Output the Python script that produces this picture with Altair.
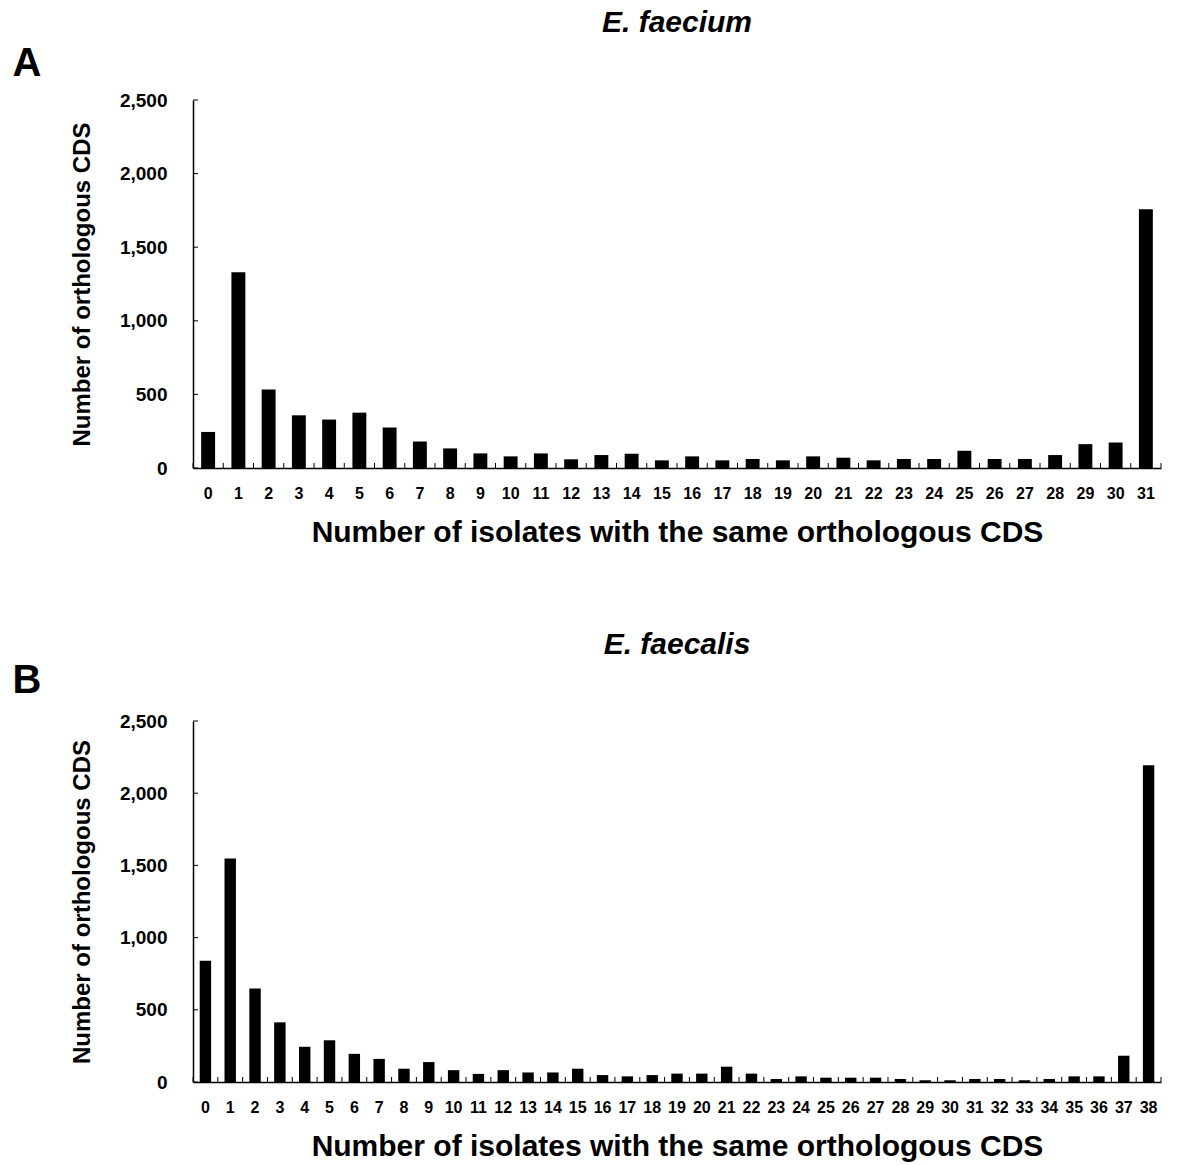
import altair as alt
import pandas as pd

# ---- data ----
A_isolates = list(range(32))
A_counts = [245, 1329, 534, 358, 329, 376, 275, 180, 133, 99,
            79, 99, 59, 88, 97, 52, 79, 52, 61, 52,
            79, 70, 52, 61, 61, 117, 61, 61, 88, 162,
            173, 1757]
B_isolates = list(range(39))
B_counts = [840, 1547, 648, 413, 244, 289, 195, 160, 92, 138,
            82, 56, 82, 66, 66, 92, 48, 39, 48, 58,
            58, 106, 58, 21, 39, 30, 30, 30, 21, 12,
            12, 21, 21, 12, 21, 39, 39, 182, 2193]
y_ticks = [0, 500, 1000, 1500, 2000, 2500]
A_title = "E. faecium"
B_title = "E. faecalis"
x_title = "Number of isolates with the same orthologous CDS"
y_title = "Number of orthologous CDS"

FONT = "Liberation Sans"
NARROW = "Liberation Sans Narrow, Arial Narrow, Liberation Sans"

x_axis = alt.Axis(title=x_title, labelAngle=0, ticks=False, grid=False,
                  labelFont=NARROW, labelFontSize=16, labelFontWeight="bold",
                  labelPadding=17, titleFont=FONT, titleFontSize=30,
                  titleFontWeight="bold", titlePadding=16,
                  domainColor="black", domainWidth=1.5, labelColor="black",
                  titleColor="black")
y_axis = alt.Axis(title=y_title, values=y_ticks, labelExpr="format(datum.value, ',')",
                  ticks=False, grid=False, labelFont=FONT, labelFontSize=19,
                  labelFontWeight="bold", labelPadding=26, titleFont=FONT,
                  titleFontSize=24, titleFontWeight="bold", titlePadding=25,
                  domainColor="black", domainWidth=1.5, labelColor="black",
                  titleColor="black")


def panel(isolates, counts, title, letter, width, height, title_offset, letter_y):
    order = [str(i) for i in isolates]
    df = pd.DataFrame({"isolates": order, "count": counts})
    xscale = alt.Scale(domain=order, paddingInner=0, paddingOuter=0)
    yscale = alt.Scale(domain=[0, 2500], nice=False)

    bars = alt.Chart(df).mark_bar(color="black", width={"band": 0.46}).encode(
        x=alt.X("isolates:O", sort=order, scale=xscale, axis=x_axis),
        y=alt.Y("count:Q", scale=yscale, axis=y_axis),
    )

    xticks = alt.Chart(df).mark_rule(color="black", strokeWidth=1).encode(
        x=alt.X("isolates:O", sort=order, scale=xscale, bandPosition=0, axis=x_axis),
        y=alt.value(height), y2=alt.value(height - 5),
    )
    xtick_end = alt.Chart(df.tail(1)).mark_rule(color="black", strokeWidth=1).encode(
        x=alt.X("isolates:O", sort=order, scale=xscale, bandPosition=1, axis=x_axis),
        y=alt.value(height), y2=alt.value(height - 5),
    )
    yt = pd.DataFrame({"count": y_ticks})
    yticks = alt.Chart(yt).mark_rule(color="black", strokeWidth=1).encode(
        y=alt.Y("count:Q", scale=yscale, axis=y_axis),
        x=alt.value(0), x2=alt.value(5),
    )
    letter_df = pd.DataFrame({"label": [letter]})
    letter_mark = alt.Chart(letter_df).mark_text(
        fontSize=40, fontWeight="bold", font=FONT, align="center", baseline="middle",
        color="black",
    ).encode(text="label:N", x=alt.value(-166), y=alt.value(letter_y))

    return alt.layer(bars, xticks, xtick_end, yticks, letter_mark).properties(
        width=width, height=height,
        title=alt.Title(title, font=FONT, fontSize=30, fontWeight="bold",
                        fontStyle="italic", anchor="middle", offset=title_offset,
                        color="black"),
    )


chart_a = panel(A_isolates, A_counts, A_title, "A", 968, 368, 6, -36)
chart_b = panel(B_isolates, B_counts, B_title, "B", 968, 361, 1, -40)

chart = alt.vconcat(chart_a, chart_b, spacing=83).properties(
    padding={"left": 4, "top": 0, "right": 5, "bottom": 5}
).configure(background="white").configure_view(stroke="transparent", strokeWidth=0)

chart.save("out.html", embed_options={"renderer": "svg", "actions": False})
